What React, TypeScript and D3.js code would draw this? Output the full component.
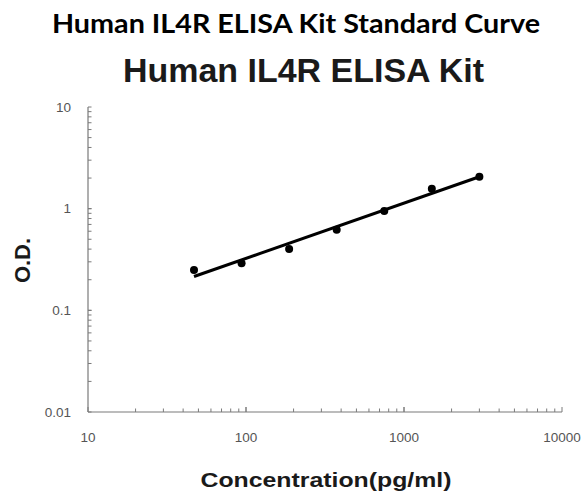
import React from "react";
import * as d3 from "d3";

const concentrations = [46.875, 93.75, 187.5, 375, 750, 1500, 3000];
const odValues = [0.25, 0.29, 0.4, 0.62, 0.95, 1.57, 2.06];
const fitX = [46.875, 3000];
const fitY = [0.215, 2.06];
const xTickLabels = ["10", "100", "1000", "10000"];
const yTickLabels = ["0.01", "0.1", "1", "10"];

const W = 587, H = 492;
const x0 = 88, x1 = 562, yTop = 107, yBot = 412;

export default function App() {
  const x = d3.scaleLog().domain([10, 10000]).range([x0, x1]);
  const y = d3.scaleLog().domain([0.01, 10]).range([yBot, yTop]);
  const xMinor: number[] = [];
  for (let d = 10; d < 10000; d *= 10) for (let k = 1; k <= 10; k++) xMinor.push(d * k);
  const yMinor: number[] = [];
  for (let d = 0.01; d < 10; d *= 10) for (let k = 1; k <= 10; k++) yMinor.push(+(d * k).toPrecision(3));
  const line = d3.line<number>().x((_, i) => x(fitX[i])).y((v) => y(v));
  const axisColor = "#7a7a7a";
  const labelColor = "#555";
  return (
    <svg width={W} height={H} style={{ position: "absolute", left: 0, top: 0, background: "#fff" }}>
      <text x={296} y={32.5} textAnchor="middle" fontFamily="Lato, 'Open Sans', sans-serif" fontWeight="bold" fontSize={26} fill="#000" textLength={488} lengthAdjust="spacingAndGlyphs">
        Human IL4R ELISA Kit Standard Curve
      </text>
      <text x={303.5} y={82} textAnchor="middle" fontFamily="'Liberation Sans', Arial, sans-serif" fontWeight="bold" fontSize={34} fill="#1a1a1a" textLength={361} lengthAdjust="spacingAndGlyphs">
        Human IL4R ELISA Kit
      </text>
      {/* axes */}
      <line x1={x0} x2={x1} y1={yBot} y2={yBot} stroke={axisColor} strokeWidth={1.2} />
      <line x1={x0} x2={x0} y1={yTop} y2={yBot} stroke={axisColor} strokeWidth={1.2} />
      {xMinor.map((v, i) => (
        <line key={"xm" + i} x1={x(v)} x2={x(v)} y1={yBot} y2={yBot - (Math.abs(Math.log10(v) % 1) < 1e-6 ? 5 : 3.5)} stroke={axisColor} strokeWidth={1} />
      ))}
      {yMinor.map((v, i) => (
        <line key={"ym" + i} x1={x0} x2={x0 + 3.5} y1={y(v)} y2={y(v)} stroke={axisColor} strokeWidth={1} />
      ))}
      {xTickLabels.map((t) => (
        <text key={t} x={x(+t)} y={442} textAnchor="middle" fontFamily="'Liberation Sans', Arial, sans-serif" fontSize={13.5} fill={labelColor}>
          {t}
        </text>
      ))}
      {yTickLabels.map((t) => (
        <text key={t} x={71} y={y(+t) + 4.5} textAnchor="end" fontFamily="'Liberation Sans', Arial, sans-serif" fontSize={13.5} fill={labelColor}>
          {t}
        </text>
      ))}
      <text transform={`translate(30,260.5) rotate(-90)`} textAnchor="middle" fontFamily="'Liberation Sans', Arial, sans-serif" fontWeight="bold" fontSize={22} fill="#1a1a1a">
        O.D.
      </text>
      <text x={326} y={487} textAnchor="middle" fontFamily="'Liberation Sans', Arial, sans-serif" fontWeight="bold" fontSize={21} fill="#1a1a1a" textLength={251} lengthAdjust="spacingAndGlyphs">
        Concentration(pg/ml)
      </text>
      <path d={line(fitY) || ""} stroke="#000" strokeWidth={3} fill="none" />
      {concentrations.map((c, i) => (
        <circle key={i} cx={x(c)} cy={y(odValues[i])} r={4} fill="#000" />
      ))}
    </svg>
  );
}
